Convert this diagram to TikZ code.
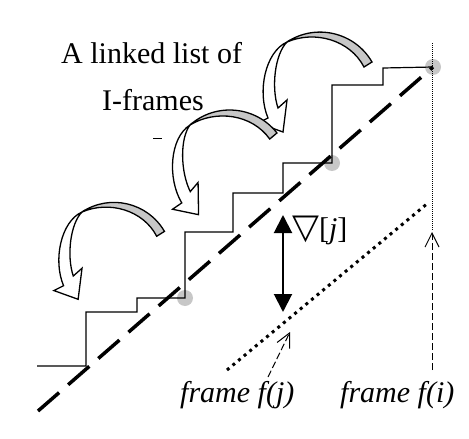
\documentclass[tikz,border=0pt]{standalone}
\usepackage{fontspec}
\setmainfont{Liberation Serif}
\newfontfamily\dejavu{DejaVu Sans}
\usetikzlibrary{arrows.meta}
\begin{document}
\begin{tikzpicture}[x=1pt,y=-1pt,
  stair/.style={line width=1.2pt},
  gdot/.style={circle, fill=black!22, minimum size=16pt, inner sep=0pt},
  dashline/.style={line width=3.5pt, dash pattern=on 28pt off 12pt},
  dotline/.style={line width=3pt, dash pattern=on 3pt off 4.3pt},
  vdots/.style={line width=0.8pt, dash pattern=on 1pt off 1pt},
  ptr/.style={line width=1pt, dash pattern=on 7pt off 3pt, -{Straight Barb[length=14pt,width=14pt]}},
  dbl/.style={line width=2pt, {Triangle[length=18pt,width=18pt]}-{Triangle[length=18pt,width=18pt]}},
  lbl/.style={font=\fontsize{30}{36}\selectfont, inner sep=0pt},
  ilbl/.style={font=\fontsize{30}{36}\selectfont\itshape, inner sep=0pt},
  curl/.pic={
    \draw[line width=1.3pt, fill=white, line join=miter]
      (0,0) .. controls (-22,10) and (-30,50) .. (-19,76) -- (-29,81) -- (-4,90)
      -- (0,58) -- (-9,66) .. controls (-16,45) and (-12,12) .. (0,0) -- cycle;
    \draw[line width=1.3pt, fill=black!22]
      (0,0) .. controls (28.7,-19) and (67.8,-9.8) .. (85,20) -- (77,25)
      .. controls (63,-2) and (28,-12) .. (0,0) -- cycle;
  }]
\useasboundingbox (0,0) rectangle (469,439);

% grey dots at the I-frames
\node[gdot] (d1) at (185,298) {};
\node[gdot] (d2) at (332,163) {};
\node[gdot] (d3) at (433,67) {};

% staircase
\draw[stair] (37,366) -- (86,366) -- (86,312) -- (137,312) -- (137,298) -- (d1.center)
  -- (185,232) -- (233,232) -- (233,193) -- (283,193) -- (283,163) -- (d2.center)
  -- (332,85) -- (383,85) -- (383,68) -- (d3.center);

% thick dashed line
\coordinate (dl) at (38,411);
\draw[dashline] (dl) -- (d3.center);

% thick dotted line
\coordinate (p1) at (227,370);
\coordinate (p2) at (428,203);
\draw[dotline] (p1) -- (p2);

% thin dotted vertical
\coordinate (v1) at (432,43);
\coordinate (v2) at (432,230);
\draw[vdots] (v1) -- (v2);

% curled arrows (linked list)
\pic at (287,42) {curl};
\pic[rotate=8] at (190,125) {curl};
\pic[scale=0.97] at (82,212) {curl};

% stray dash
\draw[line width=0.8pt] (153,138) -- (162,138);

% texts
\node[lbl, anchor=base west] (t1) at (61,63) {A linked list of};
\node[lbl, anchor=base west] (t2) at (102,110) {I-frames};
\node[lbl, anchor=base west] (nab) at (292,238) {{\dejavu\fontsize{35}{40}\selectfont ▽}[\textit{j}]};
\node[ilbl, anchor=base west] (fj) at (180,402) {frame f(j)};
\node[ilbl, anchor=base west] (fi) at (340,402) {frame f(i)};

% double arrow
\coordinate (a1) at (283,215);
\coordinate (a2) at (283,312);
\draw[dbl] (a1) -- (a2);

% dashed pointers
\coordinate (fis) at (432,370);
\coordinate (fit) at (432,232);
\draw[ptr] (fis) -- (fit);
\coordinate (fjs) at (268,377);
\coordinate (fjt) at (290,332);
\draw[ptr] (fjs) -- (fjt);
\end{tikzpicture}
\end{document}
